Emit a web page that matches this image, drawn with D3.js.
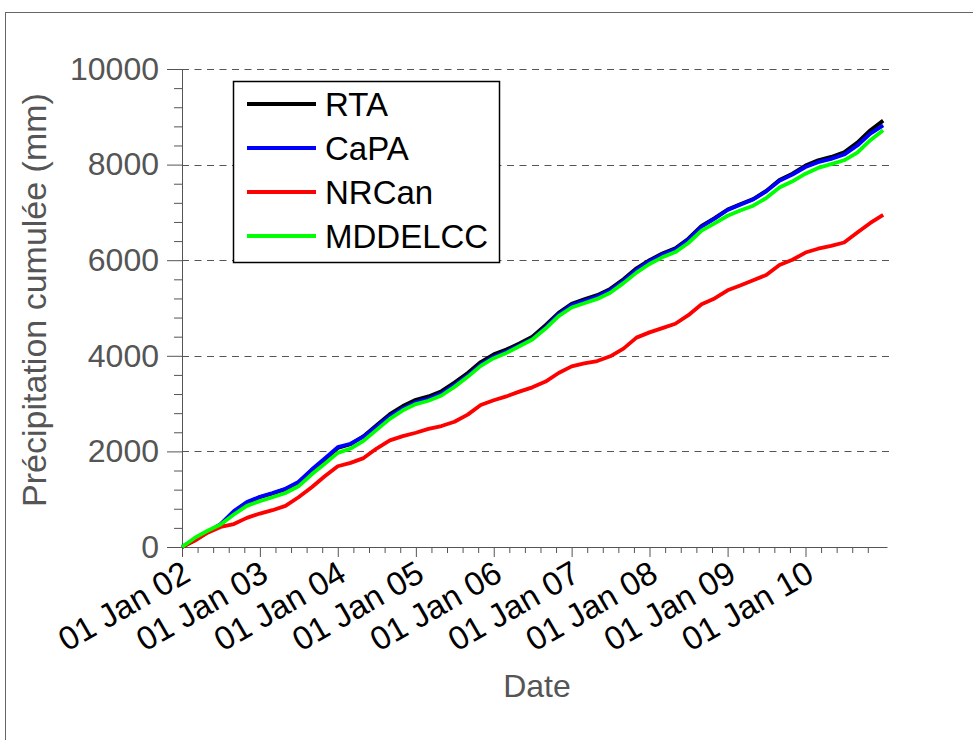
<!DOCTYPE html>
<html>
<head>
<meta charset="utf-8">
<script src="https://cdn.jsdelivr.net/npm/d3@7"></script>
<style>
  body { margin: 0; background: #fff; }
  text { font-family: "Liberation Sans", Arial, sans-serif; }
</style>
</head>
<body>
<script>
// dates (every two months) shared by all series
const dates = [
  "2002-01-01","2002-03-01","2002-05-01","2002-07-01","2002-09-01","2002-11-01",
  "2003-01-01","2003-03-01","2003-05-01","2003-07-01","2003-09-01","2003-11-01",
  "2004-01-01","2004-03-01","2004-05-01","2004-07-01","2004-09-01","2004-11-01",
  "2005-01-01","2005-03-01","2005-05-01","2005-07-01","2005-09-01","2005-11-01",
  "2006-01-01","2006-03-01","2006-05-01","2006-07-01","2006-09-01","2006-11-01",
  "2007-01-01","2007-03-01","2007-05-01","2007-07-01","2007-09-01","2007-11-01",
  "2008-01-01","2008-03-01","2008-05-01","2008-07-01","2008-09-01","2008-11-01",
  "2009-01-01","2009-03-01","2009-05-01","2009-07-01","2009-09-01","2009-11-01",
  "2010-01-01","2010-03-01","2010-05-01","2010-07-01","2010-09-01","2010-11-01",
  "2010-12-31"
];

// cumulated precipitation (mm)
const rta = [0,150,310,470,740,930, 1040,1120,1210,1350,1610,1830, 2070,2150,2320,2550,2780,2950,
  3080,3150,3260,3440,3640,3870, 4030,4130,4260,4400,4640,4900, 5090,5180,5270,5400,5600,5830,
  6000,6140,6250,6450,6720,6880, 7060,7170,7280,7450,7680,7810, 7980,8090,8160,8260,8460,8720, 8920];
const capa = [0,150,310,480,750,940, 1050,1130,1220,1360,1620,1850, 2090,2160,2310,2520,2740,2900,
  3030,3100,3210,3390,3590,3820, 3980,4090,4220,4360,4600,4870, 5060,5150,5240,5370,5570,5800,
  5980,6120,6230,6430,6700,6870, 7050,7160,7270,7440,7660,7790, 7950,8050,8120,8210,8400,8650, 8820];
const nrcan = [0,130,300,420,480,610, 700,770,860,1040,1250,1480, 1690,1760,1860,2060,2230,2320,
  2390,2470,2530,2620,2770,2970, 3070,3150,3250,3340,3460,3640, 3780,3840,3890,3990,4150,4380,
  4490,4580,4670,4850,5080,5200, 5370,5470,5580,5690,5900,6010, 6160,6240,6300,6370,6580,6780, 6950];
const mddelcc = [0,190,340,470,680,860, 960,1040,1130,1270,1520,1740, 1970,2060,2220,2450,2680,2860,
  2990,3060,3170,3350,3560,3790, 3950,4060,4200,4340,4570,4830, 5010,5100,5190,5320,5520,5740,
  5920,6060,6170,6360,6620,6770, 6930,7040,7140,7300,7520,7650, 7810,7930,8010,8090,8250,8510, 8720];

const seriesNames = ["RTA", "CaPA", "NRCan", "MDDELCC"];
const seriesColors = ["#000000", "#0000ff", "#ff0000", "#00ff00"];
const seriesValues = [rta, capa, nrcan, mddelcc];

const yTicks = [0, 2000, 4000, 6000, 8000, 10000];
const xTickYears = ["2002","2003","2004","2005","2006","2007","2008","2009","2010"];

const parse = d3.timeParse("%Y-%m-%d");
const W = 973, H = 740;
const plotLeft = 182, plotRight = 887, plotTop = 69, plotBottom = 547;

const svg = d3.select("body").append("svg")
  .attr("width", W)
  .attr("height", H);

// frame
svg.append("rect")
  .attr("x", 5.5).attr("y", 12.5)
  .attr("width", 1000).attr("height", 800)
  .attr("fill", "none")
  .attr("stroke", "#666")
  .attr("stroke-width", 1);

const x = d3.scaleTime()
  .domain([parse("2002-01-01"), parse("2011-01-18")])
  .range([plotLeft, plotRight]);

const y = d3.scaleLinear()
  .domain([0, 10000])
  .range([plotBottom, plotTop]);

// gridlines
svg.append("g")
  .selectAll("line")
  .data(yTicks.filter(d => d > 0))
  .join("line")
  .attr("x1", plotLeft)
  .attr("x2", plotRight + 2)
  .attr("y1", d => Math.round(y(d)) + 0.5)
  .attr("y2", d => Math.round(y(d)) + 0.5)
  .attr("stroke", "#555")
  .attr("stroke-width", 1)
  .attr("stroke-dasharray", "7,5.5");

// y axis minor ticks
const yMinor = d3.range(0, 10001, 400).filter(d => d % 2000 != 0);
svg.append("g")
  .attr("transform", "translate(" + plotLeft + ",0)")
  .call(d3.axisLeft(y).tickValues(yMinor).tickSize(8).tickFormat(""))
  .call(g => g.select(".domain").remove())
  .selectAll("line").attr("stroke", "#555");

// y axis
const yAxis = svg.append("g")
  .attr("transform", "translate(" + plotLeft + ",0)")
  .call(d3.axisLeft(y).tickValues(yTicks).tickSize(15).tickSizeOuter(0).tickPadding(8)
    .tickFormat(d3.format("d")));
yAxis.select(".domain").attr("stroke", "#555");
yAxis.selectAll("line").attr("stroke", "#555");
yAxis.selectAll("text")
  .attr("fill", "#555")
  .style("font-size", "32px");

// x axis minor ticks (4 between years)
const xMinor = [];
xTickYears.forEach(function (yr) {
  const a = parse(yr + "-01-01"), b = parse((+yr + 1) + "-01-01");
  for (let i = 1; i <= 4; i++) {
    xMinor.push(new Date(+a + (b - a) * i / 5));
  }
});
svg.append("g")
  .attr("transform", "translate(0," + plotBottom + ")")
  .call(d3.axisBottom(x).tickValues(xMinor.filter(d => x(d) <= plotRight)).tickSize(6).tickFormat(""))
  .call(g => g.select(".domain").remove())
  .selectAll("line").attr("stroke", "#555");

// x axis
const xAxis = svg.append("g")
  .attr("transform", "translate(0," + plotBottom + ")")
  .call(d3.axisBottom(x)
    .tickValues(xTickYears.map(d => parse(d + "-01-01")))
    .tickSize(10).tickSizeOuter(0)
    .tickFormat(d3.timeFormat("%d %b %y")));
xAxis.select(".domain").attr("stroke", "#555");
xAxis.selectAll("line").attr("stroke", "#555");
xAxis.selectAll("text")
  .attr("fill", "#000")
  .style("font-size", "33px")
  .attr("text-anchor", "end")
  .attr("y", 0)
  .attr("dy", "0.72em")
  .attr("transform", "translate(-2,12) rotate(-30)");

// lines
const line = d3.line()
  .x((d, i) => x(parse(dates[i])))
  .y(d => y(d));

seriesValues.forEach(function (vals, i) {
  svg.append("path")
    .datum(vals)
    .attr("fill", "none")
    .attr("stroke", seriesColors[i])
    .attr("stroke-width", 3.8)
    .attr("stroke-linejoin", "round")
    .attr("d", line);
});

// axis titles
svg.append("text")
  .attr("transform", "translate(46,300) rotate(-90)")
  .attr("text-anchor", "middle")
  .attr("fill", "#555")
  .style("font-size", "34px")
  .text("Précipitation cumulée (mm)");

svg.append("text")
  .attr("x", 537)
  .attr("y", 697)
  .attr("text-anchor", "middle")
  .attr("fill", "#555")
  .style("font-size", "32px")
  .text("Date");

// legend
const legend = svg.append("g");
legend.append("rect")
  .attr("x", 233.5).attr("y", 81.5)
  .attr("width", 266).attr("height", 181)
  .attr("fill", "#fff")
  .attr("stroke", "#000")
  .attr("stroke-width", 1.5);

seriesNames.forEach(function (name, i) {
  const ly = 104 + i * 44;
  legend.append("line")
    .attr("x1", 247).attr("x2", 316)
    .attr("y1", ly).attr("y2", ly)
    .attr("stroke", seriesColors[i])
    .attr("stroke-width", 4);
  legend.append("text")
    .attr("x", 325)
    .attr("y", ly)
    .attr("dy", "0.36em")
    .attr("fill", "#000")
    .style("font-size", "33px")
    .text(name);
});
</script>
</body>
</html>
